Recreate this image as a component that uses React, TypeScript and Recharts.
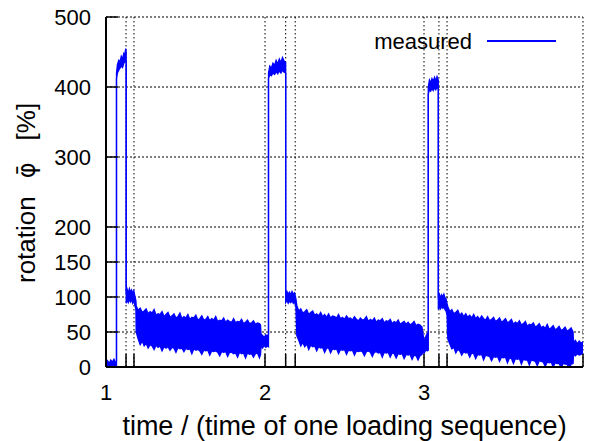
import { ComposedChart, Area, XAxis, YAxis, CartesianGrid, Legend } from "recharts";

// time in units of one loading sequence; each block is one phase of the record
const time = [
  // unloaded
  1.0, 1.01, 1.02, 1.03, 1.04, 1.05, 1.06, 1.066,
  // load 1
  1.066, 1.072, 1.08, 1.088, 1.096, 1.104, 1.112, 1.118, 1.124, 1.127,
  // hold 1
  1.127, 1.133, 1.14, 1.147, 1.154, 1.161, 1.168, 1.175, 1.182, 1.188,
  // relax 1
  1.19, 1.2025, 1.215, 1.2275, 1.24, 1.2525, 1.265, 1.2775,
  1.29, 1.3025, 1.315, 1.3275, 1.34, 1.3525, 1.365, 1.3775,
  1.39, 1.4025, 1.415, 1.4275, 1.44, 1.4525, 1.465, 1.4775,
  1.49, 1.5025, 1.515, 1.5275, 1.54, 1.5525, 1.565, 1.5775,
  1.59, 1.6025, 1.615, 1.6275, 1.64, 1.6525, 1.665, 1.6775,
  1.69, 1.7025, 1.715, 1.7275, 1.74, 1.7525, 1.765, 1.7775,
  1.79, 1.8025, 1.815, 1.8275, 1.84, 1.8525, 1.865, 1.8775,
  1.89, 1.9025, 1.915, 1.9275, 1.94, 1.9525, 1.965, 1.972,
  // unload 1
  1.975, 1.985, 1.995, 2.005, 2.015, 2.022,
  // load 2
  2.022, 2.03, 2.04, 2.05, 2.06, 2.07, 2.08, 2.09, 2.1, 2.11, 2.12, 2.13,
  // hold 2
  2.13, 2.138, 2.146, 2.154, 2.162, 2.17, 2.178, 2.186, 2.194,
  // relax 2
  2.2, 2.2125, 2.225, 2.2375, 2.25, 2.2625, 2.275, 2.2875,
  2.3, 2.3125, 2.325, 2.3375, 2.35, 2.3625, 2.375, 2.3875,
  2.4, 2.4125, 2.425, 2.4375, 2.45, 2.4625, 2.475, 2.4875,
  2.5, 2.5125, 2.525, 2.5375, 2.55, 2.5625, 2.575, 2.5875,
  2.6, 2.6125, 2.625, 2.6375, 2.65, 2.6625, 2.675, 2.6875,
  2.7, 2.7125, 2.725, 2.7375, 2.75, 2.7625, 2.775, 2.7875,
  2.8, 2.8125, 2.825, 2.8375, 2.85, 2.8625, 2.875, 2.8875,
  2.9, 2.9125, 2.925, 2.9375, 2.95, 2.9625, 2.975, 2.9875,
  // unload 2
  2.994, 3.0, 3.006, 3.012, 3.02, 3.027,
  // load 3
  3.027, 3.034, 3.042, 3.05, 3.058, 3.066, 3.074, 3.082, 3.09,
  // hold 3
  3.09, 3.097, 3.104, 3.111, 3.118, 3.125, 3.132, 3.139, 3.145,
  // relax 3
  3.15, 3.1625, 3.175, 3.1875, 3.2, 3.2125, 3.225, 3.2375,
  3.25, 3.2625, 3.275, 3.2875, 3.3, 3.3125, 3.325, 3.3375,
  3.35, 3.3625, 3.375, 3.3875, 3.4, 3.4125, 3.425, 3.4375,
  3.45, 3.4625, 3.475, 3.4875, 3.5, 3.5125, 3.525, 3.5375,
  3.55, 3.5625, 3.575, 3.5875, 3.6, 3.6125, 3.625, 3.6375,
  3.65, 3.6625, 3.675, 3.6875, 3.7, 3.7125, 3.725, 3.7375,
  3.75, 3.7625, 3.775, 3.7875, 3.8, 3.8125, 3.825, 3.8375,
  3.85, 3.8625, 3.875, 3.8875, 3.9, 3.9125, 3.925, 3.9375,
  // unload 3
  3.94, 3.952, 3.964, 3.976, 3.988, 4.0,
];

// lower edge of the measured band [%]
const lower = [
  -8, -6, -9, -5, -8, -6, -7, -5,
  412, 420, 424, 427, 430, 428, 434, 436, 438, 436,
  91, 96, 92, 97, 93, 96, 91, 95, 88, 82,
  50, 40, 32, 37, 30, 34, 27, 32,
  30, 25, 31, 28, 30, 23, 29, 27,
  29, 24, 28, 27, 21, 28, 26, 27,
  22, 27, 25, 26, 19, 26, 24, 25,
  23, 18, 24, 23, 24, 17, 23, 22,
  23, 21, 16, 22, 21, 22, 15, 21,
  21, 19, 20, 14, 21, 19, 20, 13,
  20, 18, 19, 14, 19, 20, 13, 18,
  30, 27, 31, 28, 30, 29,
  412, 418, 416, 420, 418, 422, 419, 423, 420, 424, 421, 420,
  92, 95, 91, 94, 92, 95, 91, 93, 86,
  45, 38, 30, 35, 29, 33, 25, 31,
  29, 30, 23, 29, 27, 28, 21, 27,
  27, 20, 26, 25, 26, 19, 25, 24,
  25, 18, 24, 23, 24, 17, 23, 22,
  23, 22, 16, 22, 23, 21, 15, 21,
  22, 20, 21, 14, 21, 20, 21, 14,
  20, 19, 13, 19, 18, 19, 12, 18,
  17, 18, 11, 17, 16, 10, 16, 18,
  24, 20, 22, 25, 23, 24,
  390, 396, 394, 398, 395, 399, 396, 400, 397,
  82, 86, 83, 87, 84, 86, 82, 80, 74,
  40, 33, 26, 28, 20, 25, 23, 17,
  22, 20, 21, 14, 20, 19, 12, 18,
  17, 18, 10, 17, 16, 15, 9, 15,
  14, 15, 8, 14, 13, 14, 6, 13,
  12, 5, 12, 11, 12, 4, 11, 10,
  10, 3, 10, 9, 8, 2, 9, 8,
  7, 1, 7, 6, 7, 0, 6, 5,
  5, -1, 5, 4, 4, -2, 4, 5,
  18, 16, 19, 17, 18, 20,
];

// upper edge of the measured band [%]
const upper = [
  6, 9, 5, 10, 7, 11, 6, 8,
  420, 432, 438, 436, 444, 440, 448, 446, 455, 450,
  106, 111, 105, 112, 107, 110, 105, 109, 101, 95,
  87, 81, 84, 78, 80, 83, 76, 79,
  77, 82, 74, 76, 75, 79, 72, 75,
  78, 71, 73, 76, 70, 72, 77, 69,
  72, 70, 75, 68, 71, 70, 74, 67,
  69, 73, 67, 68, 72, 66, 69, 67,
  72, 65, 67, 66, 70, 64, 67, 65,
  64, 69, 63, 65, 64, 68, 62, 64,
  67, 62, 63, 66, 61, 63, 62, 60,
  47, 45, 42, 46, 44, 47,
  420, 430, 427, 434, 431, 438, 433, 440, 435, 442, 437, 435,
  103, 108, 104, 107, 103, 108, 104, 106, 98,
  88, 80, 83, 77, 79, 82, 75, 78,
  80, 74, 76, 73, 78, 72, 75, 71,
  76, 70, 73, 72, 70, 75, 69, 71,
  68, 73, 69, 70, 67, 72, 68, 66,
  70, 67, 68, 72, 65, 68, 66, 70,
  64, 67, 66, 69, 63, 66, 65, 68,
  62, 65, 63, 67, 61, 63, 65, 61,
  64, 60, 62, 65, 59, 61, 60, 57,
  46, 40, 38, 44, 48, 46,
  400, 410, 406, 412, 408, 414, 409, 415, 410,
  98, 104, 99, 103, 100, 104, 99, 97, 90,
  86, 79, 82, 76, 78, 81, 74, 77,
  72, 76, 71, 74, 70, 75, 69, 72,
  68, 73, 69, 67, 72, 66, 68, 71,
  65, 67, 70, 64, 66, 69, 63, 65,
  68, 61, 64, 62, 66, 60, 62, 65,
  58, 61, 60, 63, 57, 59, 62, 56,
  58, 55, 61, 54, 56, 59, 53, 55,
  58, 52, 54, 57, 51, 53, 56, 50,
  35, 38, 33, 37, 34, 36,
];

const yTicks = [0, 50, 100, 150, 200, 300, 400, 500];
// phase boundaries get a tick and grid line, whole sequences get a label
const xTicks = [1, 1.126, 1.176, 2, 2.13, 2.19, 3, 3.094, 3.145, 4];
const xLabels = [1, 2, 3];

const data = time.map((t, i) => ({ t, band: [lower[i], upper[i]] }));

const FONT = '"Liberation Sans", Arial, Helvetica, sans-serif';
const BLUE = "#0000ff";

function YTick({ x, y, payload }: any) {
  return (
    <g>
      <line x1={x} x2={x + 12} y1={y} y2={y} stroke="#000" strokeWidth={1.5} />
      <text x={x - 15} y={y} dy="0.36em" textAnchor="end" fontSize={22} fontFamily={FONT} fill="#000">
        {payload.value}
      </text>
    </g>
  );
}

function XTick({ x, y, payload }: any) {
  const v = payload.value;
  return (
    <g>
      <line x1={x} x2={x} y1={y} y2={y - 13} stroke="#000" strokeWidth={1.5} />
      {xLabels.includes(v) && (
        <text x={x} y={y + 25} dy="0.36em" textAnchor="middle" fontSize={22} fontFamily={FONT} fill="#000">
          {v}
        </text>
      )}
    </g>
  );
}

function LegendBox() {
  return (
    <svg width={200} height={28}>
      <text x={102} y={13} dy="0.36em" textAnchor="end" fontSize={22} fontFamily={FONT} fill="#000">
        measured
      </text>
      <line x1={117} x2={186} y1={13} y2={13} stroke={BLUE} strokeWidth={2} />
    </svg>
  );
}

export default function App() {
  return (
    <div style={{ position: "absolute", left: 0, top: 0 }}>
      <ComposedChart width={591} height={441} data={data} margin={{ top: 17, right: 8, bottom: 0, left: 0 }}>
        <CartesianGrid horizontal vertical={false} stroke="#000" strokeDasharray="2 2" />
        <CartesianGrid horizontal={false} vertical stroke="#000" strokeDasharray="1.5 2.5" />
        <Area
          type="linear"
          dataKey="band"
          stroke={BLUE}
          strokeWidth={1.3}
          fill={BLUE}
          fillOpacity={1}
          dot={false}
          activeDot={false}
          isAnimationActive={false}
        />
        <XAxis
          dataKey="t"
          type="number"
          domain={[1, 4]}
          ticks={xTicks}
          interval={0}
          allowDataOverflow
          height={74}
          tickSize={0}
          tickMargin={0}
          tickLine={false}
          tick={<XTick />}
          axisLine={{ stroke: "#000", strokeWidth: 2 }}
          label={{
            content: ({ viewBox }: any) => (
              <text
                x={viewBox.x + viewBox.width / 2}
                y={435}
                textAnchor="middle"
                fontSize={27}
                fontFamily={FONT}
                fill="#000"
              >
                time / (time of one loading sequence)
              </text>
            ),
          }}
        />
        <YAxis
          type="number"
          domain={[0, 500]}
          ticks={yTicks}
          interval={0}
          allowDataOverflow
          width={106}
          tickSize={0}
          tickMargin={0}
          tickLine={false}
          tick={<YTick />}
          axisLine={{ stroke: "#000", strokeWidth: 2 }}
          label={{
            content: () => (
              <text transform="translate(35,283) rotate(-90)" fontSize={26} fontFamily={FONT} fill="#000">
                rotation
                <tspan dx={18} fontFamily='"DejaVu Sans", sans-serif' fontSize={24}>
                  {"φ\u0304"}
                </tspan>
                <tspan dx={22}>[%]</tspan>
              </text>
            ),
          }}
        />
        <Legend
          layout="vertical"
          align="center"
          verticalAlign="middle"
          content={() => <LegendBox />}
          wrapperStyle={{ left: 370, top: 28, width: 200, height: 28 }}
        />
      </ComposedChart>
    </div>
  );
}
